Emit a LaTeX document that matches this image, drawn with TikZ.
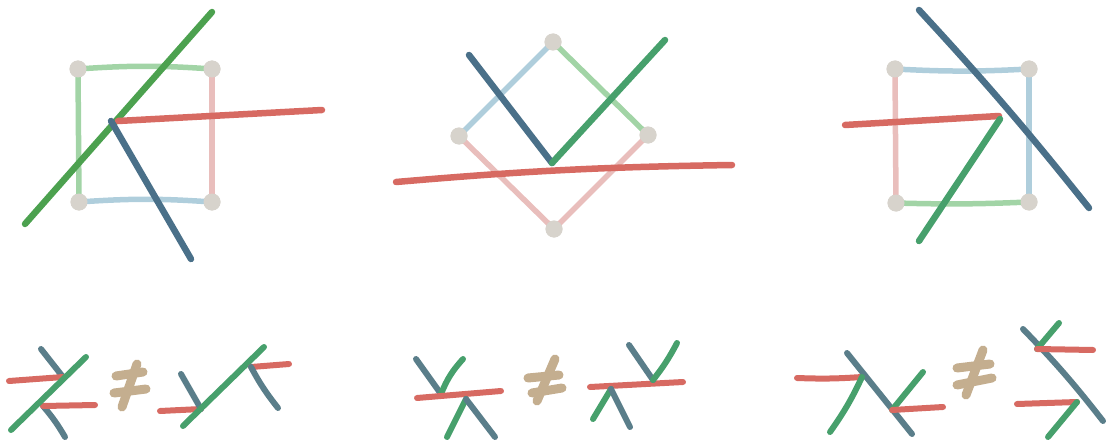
\documentclass[tikz,border=0pt]{standalone}
\begin{document}
\begin{tikzpicture}[x=1pt,y=-1pt,
  edge/.style={line width=5.5pt,line cap=round},
  stroke/.style={line width=6.5pt,line cap=round},
  small/.style={line width=6pt,line cap=round},
  neq/.style={line width=9pt,line cap=round,draw=tanc},
  dot/.style={circle,fill=dotc,inner sep=0pt,minimum size=17pt}]
\definecolor{redc}{HTML}{D76A62}
\definecolor{blued}{HTML}{4A7089}
\definecolor{blueb}{HTML}{5A7E8A}
\definecolor{greena}{HTML}{4CA14F}
\definecolor{greenb}{HTML}{47A06C}
\definecolor{lgreen}{HTML}{A2D4A6}
\definecolor{lblue}{HTML}{AFCEDC}
\definecolor{pinkc}{HTML}{E9BEBC}
\definecolor{dotc}{HTML}{D7D3CC}
\definecolor{tanc}{HTML}{C4AE8F}
\useasboundingbox (0,0) rectangle (1107,441);

% ---------- panel 1 ----------
\node[dot] (a1) at (78,69) {};
\node[dot] (a2) at (212,69) {};
\node[dot] (a3) at (79,202) {};
\node[dot] (a4) at (212,202) {};
\draw[edge,lgreen] (a1.center) to[bend left=4] (a2.center);
\draw[edge,lgreen] (a1.center) -- (a3.center);
\draw[edge,pinkc] (a2.center) -- (a4.center);
\draw[edge,lblue] (a3.center) to[bend left=4] (a4.center);
\node[dot] at (a1) {};\node[dot] at (a2) {};\node[dot] at (a3) {};\node[dot] at (a4) {};
\coordinate (g1s) at (25,224); \coordinate (g1e) at (212,12);
\coordinate (r1s) at (118,121); \coordinate (r1e) at (322,110);
\coordinate (b1s) at (111,121); \coordinate (b1e) at (191,259);
\draw[stroke,greena] (g1s) -- (g1e);
\draw[stroke,redc] (r1s) -- (r1e);
\draw[stroke,blued] (b1s) -- (b1e);

% ---------- panel 2 ----------
\node[dot] (c1) at (553,42) {};
\node[dot] (c2) at (459,136) {};
\node[dot] (c3) at (648,135) {};
\node[dot] (c4) at (554,229) {};
\draw[edge,lblue] (c1.center) -- (c2.center);
\draw[edge,lgreen] (c1.center) -- (c3.center);
\draw[edge,pinkc] (c2.center) -- (c4.center);
\draw[edge,pinkc] (c3.center) -- (c4.center);
\node[dot] at (c1) {};\node[dot] at (c2) {};\node[dot] at (c3) {};\node[dot] at (c4) {};
\coordinate (b2s) at (469,55); \coordinate (v2) at (552,163);
\coordinate (g2e) at (665,40);
\coordinate (r2s) at (396,182); \coordinate (r2e) at (732,165);
\draw[stroke,blued] (b2s) -- (v2);
\draw[stroke,greenb] (v2) -- (g2e);
\draw[stroke,redc] (r2s) to[bend left=2] (r2e);

% ---------- panel 3 ----------
\node[dot] (d1) at (895,69) {};
\node[dot] (d2) at (1029,69) {};
\node[dot] (d3) at (896,203) {};
\node[dot] (d4) at (1029,202) {};
\draw[edge,lblue] (d1.center) to[bend right=3] (d2.center);
\draw[edge,lblue] (d2.center) -- (d4.center);
\draw[edge,pinkc] (d1.center) -- (d3.center);
\draw[edge,lgreen] (d3.center) to[bend right=2] (d4.center);
\node[dot] at (d1) {};\node[dot] at (d2) {};\node[dot] at (d3) {};\node[dot] at (d4) {};
\coordinate (b3s) at (919,10); \coordinate (b3e) at (1089,208);
\coordinate (r3s) at (845,125); \coordinate (r3e) at (999,116);
\coordinate (g3s) at (1000,119); \coordinate (g3e) at (919,241);
\draw[stroke,blued] (b3s) to[bend left=2] (b3e);
\draw[stroke,redc] (r3s) -- (r3e);
\draw[stroke,greenb] (g3s) -- (g3e);

% ---------- bottom A ----------
\coordinate (A1) at (41,349); \coordinate (A2) at (63,377);
\coordinate (A3) at (43,406); \coordinate (A4) at (65,437);
\coordinate (A5) at (9,381); \coordinate (A6) at (95,405);
\coordinate (A7) at (11,430); \coordinate (A8) at (86,357);
\draw[small,blueb] (A1) -- (A2);
\draw[small,blueb] (A3) to[bend left=5] (A4);
\draw[small,redc] (A5) -- (A2);
\draw[small,redc] (A3) -- (A6);
\draw[small,greenb] (A7) -- (A8);
\coordinate (N1a) at (116,376); \coordinate (N1b) at (143,372);
\coordinate (N1c) at (114,393); \coordinate (N1d) at (146,389);
\coordinate (N1e) at (137,364); \coordinate (N1f) at (122,407);
\draw[neq] (N1a) -- (N1b); \draw[neq] (N1c) -- (N1d); \draw[neq] (N1e) -- (N1f);
\coordinate (A9) at (160,411); \coordinate (A10) at (201,409);
\coordinate (A11) at (181,374);
\coordinate (A12) at (183,426); \coordinate (A13) at (264,347);
\coordinate (A14) at (251,367); \coordinate (A15) at (289,364);
\coordinate (A16) at (278,408);
\draw[small,redc] (A9) -- (A10);
\draw[small,blueb] (A11) -- (A10);
\draw[small,greenb] (A12) -- (A13);
\draw[small,redc] (A14) -- (A15);
\draw[small,blueb] (A14) to[bend right=5] (A16);

% ---------- bottom B ----------
\coordinate (B1) at (416,359); \coordinate (B2) at (441,394);
\coordinate (B3) at (463,359);
\coordinate (B4) at (417,398); \coordinate (B5) at (501,391);
\coordinate (B6) at (466,399); \coordinate (B7) at (447,437);
\coordinate (B8) at (495,437);
\draw[small,blueb] (B1) -- (B2);
\draw[small,greenb] (B2) to[bend left=10] (B3);
\draw[small,redc] (B4) -- (B5);
\draw[small,greenb] (B6) -- (B7);
\draw[small,blueb] (B6) -- (B8);
\coordinate (N2a) at (528,378); \coordinate (N2b) at (559,375);
\coordinate (N2c) at (532,393); \coordinate (N2d) at (562,388);
\coordinate (N2e) at (555,359); \coordinate (N2f) at (537,401);
\draw[neq] (N2a) -- (N2b); \draw[neq] (N2c) -- (N2d); \draw[neq] (N2e) -- (N2f);
\coordinate (B9) at (590,387); \coordinate (B10) at (683,382);
\coordinate (B11) at (629,345); \coordinate (B12) at (653,380);
\coordinate (B13) at (677,343);
\coordinate (B14) at (611,389); \coordinate (B15) at (593,419);
\coordinate (B16) at (630,427);
\draw[small,redc] (B9) -- (B10);
\draw[small,blueb] (B11) -- (B12);
\draw[small,greenb] (B12) to[bend right=5] (B13);
\draw[small,greenb] (B14) -- (B15);
\draw[small,blueb] (B14) -- (B16);

% ---------- bottom C ----------
\coordinate (C1) at (797,378); \coordinate (C2) at (862,377);
\coordinate (C3) at (847,353); \coordinate (C4) at (912,434);
\coordinate (C5) at (830,432);
\coordinate (C6) at (923,372); \coordinate (C7) at (892,410);
\coordinate (C8) at (943,407);
\draw[small,redc] (C1) to[bend right=3] (C2);
\draw[small,blueb] (C3) -- (C4);
\draw[small,greenb] (C2) to[bend left=5] (C5);
\draw[small,greenb] (C6) -- (C7);
\draw[small,redc] (C7) -- (C8);
\coordinate (N3a) at (957,368); \coordinate (N3b) at (990,364);
\coordinate (N3c) at (957,385); \coordinate (N3d) at (992,378);
\coordinate (N3e) at (983,350); \coordinate (N3f) at (966,395);
\draw[neq] (N3a) -- (N3b); \draw[neq] (N3c) -- (N3d); \draw[neq] (N3e) -- (N3f);
\coordinate (C9) at (1023,329); \coordinate (C10) at (1103,421);
\coordinate (C11) at (1037,349); \coordinate (C12) at (1059,323);
\coordinate (C13) at (1093,350);
\coordinate (C14) at (1017,404); \coordinate (C15) at (1077,402);
\coordinate (C16) at (1048,437);
\draw[small,blueb] (C9) to[bend left=3] (C10);
\draw[small,greenb] (C11) -- (C12);
\draw[small,redc] (C11) -- (C13);
\draw[small,redc] (C14) -- (C15);
\draw[small,greenb] (C15) -- (C16);
\end{tikzpicture}
\end{document}
